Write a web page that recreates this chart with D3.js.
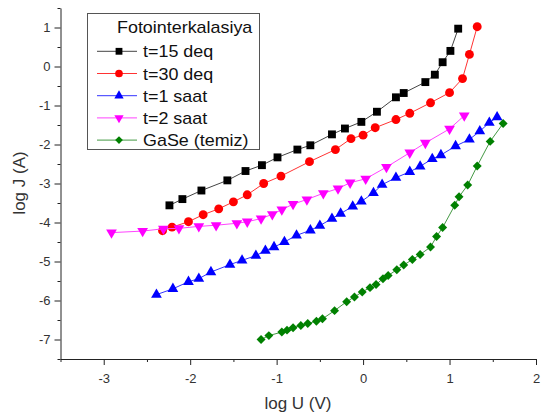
<!DOCTYPE html>
<html>
<head>
<meta charset="utf-8">
<script src="https://cdn.jsdelivr.net/npm/d3@7"></script>
<style>
  body { margin: 0; background: #fff; }
  svg { display: block; font-family: "Liberation Sans", Arial, sans-serif; }
  .axis path, .axis line { stroke: #222; }
  .axis text { fill: #333; font-size: 13px; }
</style>
</head>
<body>
<svg id="chart" width="541" height="414"></svg>
<script>
    // t=15 deq
    var x15 = [-2.24,-2.09,-1.87,-1.57,-1.36,-1.17,-0.99,-0.76,-0.61,-0.36,-0.21,-0.02,0.16,0.38,0.47,0.72,0.83,0.92,1.01,1.10];
    var y15 = [-3.56,-3.40,-3.18,-2.92,-2.68,-2.53,-2.33,-2.13,-2.02,-1.74,-1.59,-1.42,-1.16,-0.79,-0.68,-0.40,-0.21,0.11,0.40,0.97];
    // t=30 deq
    var x30 = [-2.32,-2.21,-2.02,-1.85,-1.67,-1.50,-1.34,-1.15,-0.95,-0.62,-0.32,-0.14,0.00,0.14,0.38,0.54,0.78,1.00,1.15,1.23,1.32];
    var y30 = [-4.21,-4.12,-3.98,-3.80,-3.65,-3.47,-3.29,-3.00,-2.81,-2.44,-2.13,-1.85,-1.76,-1.57,-1.36,-1.20,-0.93,-0.67,-0.31,0.31,1.02];
    // t=1 saat
    var x1s = [-2.39,-2.20,-2.02,-1.90,-1.76,-1.54,-1.40,-1.24,-1.13,-1.03,-0.91,-0.77,-0.61,-0.50,-0.36,-0.26,-0.12,-0.02,0.12,0.22,0.38,0.54,0.66,0.80,0.90,1.07,1.23,1.35,1.46,1.55];
    var y1s = [-5.85,-5.70,-5.52,-5.44,-5.27,-5.08,-4.97,-4.85,-4.72,-4.63,-4.50,-4.33,-4.20,-4.08,-3.90,-3.77,-3.59,-3.46,-3.24,-3.03,-2.85,-2.70,-2.56,-2.37,-2.27,-2.04,-1.87,-1.66,-1.44,-1.30];
    // t=2 saat
    var x2s = [-2.91,-2.55,-2.31,-2.13,-1.90,-1.70,-1.46,-1.34,-1.18,-1.05,-0.94,-0.81,-0.65,-0.46,-0.29,-0.15,0.03,0.27,0.54,0.72,1.00,1.17];
    var y2s = [-4.26,-4.22,-4.16,-4.15,-4.10,-4.07,-4.02,-3.98,-3.90,-3.79,-3.67,-3.53,-3.41,-3.25,-3.13,-2.98,-2.88,-2.58,-2.21,-1.96,-1.60,-1.26];
    // GaSe (temiz)
    var xGa = [-1.18,-1.09,-0.94,-0.88,-0.81,-0.72,-0.64,-0.54,-0.47,-0.33,-0.19,-0.10,-0.01,0.08,0.15,0.23,0.29,0.39,0.47,0.57,0.66,0.78,0.85,0.92,1.06,1.11,1.21,1.32,1.47,1.62];
    var yGa = [-7.00,-6.90,-6.81,-6.76,-6.70,-6.64,-6.59,-6.53,-6.47,-6.26,-6.03,-5.91,-5.78,-5.67,-5.59,-5.44,-5.36,-5.21,-5.09,-4.95,-4.82,-4.63,-4.36,-4.13,-3.56,-3.34,-3.04,-2.55,-1.92,-1.46];

    var xMajor = [-3, -2, -1, 0, 1, 2];
    var yMajor = [1, 0, -1, -2, -3, -4, -5, -6, -7];

    var series = [
      { name: 't=15 deq', xs: x15, ys: y15, color: '#000000', line: '#444444', shape: d3.symbolSquare, size: 62, rot: 0 },
      { name: 't=30 deq', xs: x30, ys: y30, color: '#ff0000', line: '#ff3333', shape: d3.symbolCircle, size: 62, rot: 0 },
      { name: 't=1 saat', xs: x1s, ys: y1s, color: '#0000ff', line: '#3333ff', shape: d3.symbolTriangle, size: 50, rot: 0 },
      { name: 't=2 saat', xs: x2s, ys: y2s, color: '#ff00ff', line: '#ff44ff', shape: d3.symbolTriangle, size: 50, rot: 180 },
      { name: 'GaSe (temiz)', xs: xGa, ys: yGa, color: '#008000', line: '#449944', shape: d3.symbolSquare, size: 40, rot: 45 }
    ];

    var svg = d3.select("#chart");

    var x = d3.scaleLinear().domain([-3.5, 2]).range([60.5, 536]);
    var y = d3.scaleLinear().domain([-7.5, 1.5]).range([359, 8]);

    var xMinor = d3.range(-3.5, 2.01, 0.5).filter(function(v) { return xMajor.indexOf(v) < 0; });
    var yMinor = d3.range(-7.5, 1.51, 0.5).filter(function(v) { return yMajor.indexOf(v) < 0; });

    // minor ticks
    svg.append("g")
      .attr("class", "axis")
      .attr("transform", "translate(0,359)")
      .call(d3.axisBottom(x).tickValues(xMinor).tickSize(3).tickFormat(""))
      .select(".domain").remove();
    svg.append("g")
      .attr("class", "axis")
      .attr("transform", "translate(60.5,0)")
      .call(d3.axisLeft(y).tickValues(yMinor).tickSize(3).tickFormat(""))
      .select(".domain").remove();

    // major axes
    svg.append("g")
      .attr("class", "axis")
      .attr("transform", "translate(0,359)")
      .call(d3.axisBottom(x).tickValues(xMajor).tickSize(6).tickSizeOuter(0).tickPadding(9)
        .tickFormat(function(d) { return d < 0 ? "-" + Math.abs(d) : d; }));
    svg.append("g")
      .attr("class", "axis")
      .attr("transform", "translate(60.5,0)")
      .call(d3.axisLeft(y).tickValues(yMajor).tickSize(6).tickSizeOuter(0).tickPadding(4)
        .tickFormat(function(d) { return d < 0 ? "-" + Math.abs(d) : d; }));

    // axis titles
    svg.append("text")
      .attr("x", 298).attr("y", 409)
      .attr("text-anchor", "middle")
      .style("font-size", "17px").style("fill", "#333")
      .text("log U (V)");
    svg.append("text")
      .attr("transform", "translate(25,183) rotate(-90)")
      .attr("text-anchor", "middle")
      .style("font-size", "17px").style("fill", "#333")
      .text("log J (A)");

    // series
    var line = d3.line()
      .x(function(d) { return x(d[0]); })
      .y(function(d) { return y(d[1]); });

    series.forEach(function(s) {
      var pts = s.xs.map(function(v, i) { return [v, s.ys[i]]; });
      var g = svg.append("g");
      g.append("path")
        .datum(pts)
        .attr("d", line)
        .attr("fill", "none")
        .attr("stroke", s.line)
        .attr("stroke-width", 1);
      g.selectAll("path.pt")
        .data(pts)
        .enter().append("path")
        .attr("class", "pt")
        .attr("d", d3.symbol().type(s.shape).size(s.size))
        .attr("transform", function(d) {
          return "translate(" + x(d[0]) + "," + y(d[1]) + ") rotate(" + s.rot + ")";
        })
        .attr("fill", s.color);
    });

    // legend
    var legend = svg.append("g");
    legend.append("rect")
      .attr("x", 87.5).attr("y", 13.5)
      .attr("width", 172).attr("height", 136)
      .attr("fill", "#fff")
      .attr("stroke", "#555")
      .attr("stroke-width", 1);
    legend.append("text")
      .attr("transform", "translate(117,33) scale(1.12,1)")
      .style("font-size", "16px").style("fill", "#111")
      .text("Fotointerkalasiya");

    series.forEach(function(s, i) {
      var cy = 51.3 + i * 22.2;
      legend.append("line")
        .attr("x1", 97).attr("x2", 137)
        .attr("y1", cy).attr("y2", cy)
        .attr("stroke", s.line).attr("stroke-width", 1);
      legend.append("path")
        .attr("d", d3.symbol().type(s.shape).size(s.size * 0.75))
        .attr("transform", "translate(119," + cy + ") rotate(" + s.rot + ")")
        .attr("fill", s.color);
      legend.append("text")
        .attr("transform", "translate(143," + (cy + 6) + ") scale(1.12,1)")
        .style("font-size", "16px").style("fill", "#111")
        .text(s.name);
    });
</script>
</body>
</html>
